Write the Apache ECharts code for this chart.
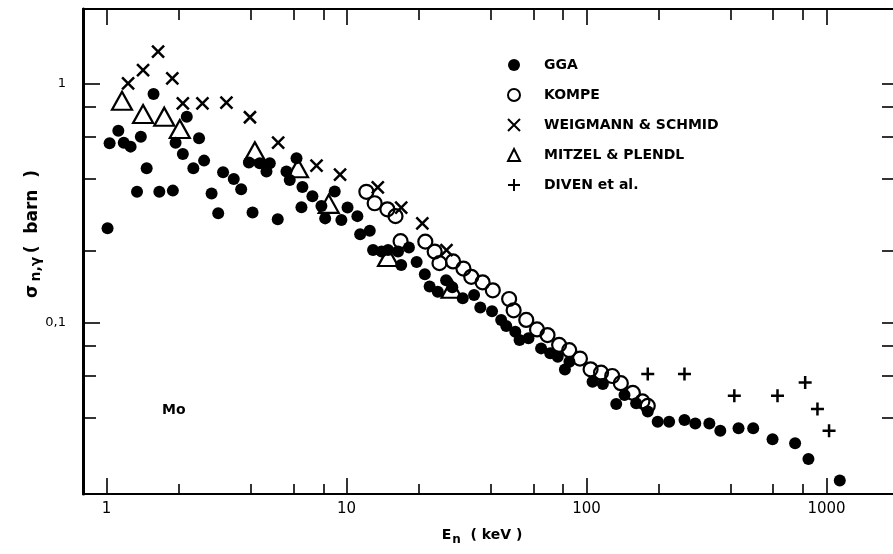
<!DOCTYPE html>
<html>
<head>
<meta charset="utf-8">
<script src="https://cdn.jsdelivr.net/npm/echarts@6/dist/echarts.min.js"></script>
<style>html,body{margin:0;padding:0;background:#fff}#c{width:893px;height:554px}</style>
</head>
<body>
<div id="c"></div>
<script>
// ---- data (E in keV, sigma in barn) ----
const ggaE = [1.01,1.03,1.12,1.18,1.26,1.34,1.39,1.47,1.57,1.66,1.89,1.94,2.08,2.16,2.30,2.43,2.55,2.74,2.92,3.06,3.39,3.64,3.92,4.06,4.35,4.64,4.79,5.17,5.62,5.80,6.19,6.49,6.55,7.21,7.86,8.15,8.93,9.52,10.1,11.1,11.4,12.5,12.9,14.0,14.9,16.4,16.9,18.2,19.6,21.2,22.2,24.0,26.0,27.6,30.5,34.0,36.1,40.4,44.1,46.3,50.5,52.6,57.3,64.7,70.6,75.9,81.3,84.9,106,117,133,144,161,180,198,221,256,284,325,361,430,495,596,740,841,1136];
const ggaS = [0.249,0.565,0.638,0.568,0.547,0.354,0.602,0.444,0.908,0.354,0.358,0.568,0.509,0.730,0.444,0.593,0.478,0.348,0.288,0.427,0.400,0.363,0.469,0.290,0.466,0.430,0.466,0.272,0.430,0.397,0.489,0.305,0.371,0.339,0.309,0.274,0.355,0.270,0.304,0.280,0.235,0.243,0.202,0.199,0.202,0.199,0.175,0.207,0.180,0.160,0.142,0.135,0.151,0.141,0.127,0.131,0.116,0.112,0.103,0.0971,0.0920,0.0849,0.0863,0.0783,0.0747,0.0723,0.0639,0.0689,0.0568,0.0556,0.0458,0.0500,0.0461,0.0426,0.0386,0.0386,0.0393,0.0380,0.0380,0.0354,0.0363,0.0363,0.0326,0.0314,0.0270,0.0219];

const kompeE = [12.1,13.1,14.8,16.0,16.8,21.3,23.3,24.4,27.8,30.7,33.1,36.9,40.7,47.6,49.7,56.1,62.2,68.8,76.9,84.7,93.9,104,115,128,139,156,171,180];
const kompeS = [0.354,0.317,0.299,0.280,0.220,0.219,0.199,0.178,0.181,0.169,0.156,0.148,0.137,0.126,0.113,0.103,0.094,0.089,0.081,0.077,0.071,0.064,0.062,0.060,0.056,0.051,0.047,0.045];

const weigE = [1.23,1.42,1.64,1.88,2.08,2.51,3.16,3.96,5.19,7.50,9.40,13.5,16.9,20.7,26.1];
const weigS = [1.007,1.144,1.365,1.056,0.830,0.830,0.835,0.726,0.568,0.455,0.418,0.369,0.304,0.261,0.202];

const mitzE = [1.16,1.42,1.74,2.02,4.15,6.28,8.43,14.9,27.4];
const mitzS = [0.851,0.749,0.730,0.648,0.523,0.444,0.315,0.189,0.139];

const divenE = [180,256,413,625,815,917,1025];
const divenS = [0.0612,0.0612,0.0496,0.0496,0.0563,0.0437,0.0354];

const seriesNames = ['GGA','KOMPE','WEIGMANN & SCHMID','MITZEL & PLENDL','DIVEN et al.'];

const xMajor = [1,10,100,1000];
const xMinor = [2,4,6,8,20,40,60,80,200,400,600,800];
const yMajor = [0.1,1];
const yMinor = [0.04,0.06,0.08,0.2,0.4,0.6,0.8];
const yRightTicks = [0.04,0.06,0.08,0.1,0.2,0.4,0.6,0.8,1];

// ---- chart ----
const pairs = (xs, ys) => xs.map((v, i) => [v, ys[i]]);
const FONT = 'DejaVu Sans';
const X_MIN = 0.798, X_MAX = 1893, Y_MIN = 0.01925, Y_MAX = 2.06;

function xAx(pos, ticks, len, opts) {
  return Object.assign({
    type: 'log', position: pos, min: X_MIN, max: X_MAX,
    axisLine: { show: false, onZero: false },
    axisTick: { show: true, inside: true, length: len, customValues: ticks, lineStyle: { color: '#000', width: 1.6 } },
    axisLabel: { show: false },
    splitLine: { show: false }, minorTick: { show: false }, minorSplitLine: { show: false }
  }, opts || {});
}
function yAx(pos, ticks, len, opts) {
  return Object.assign({
    type: 'log', position: pos, min: Y_MIN, max: Y_MAX,
    axisLine: { show: false, onZero: false },
    axisTick: { show: true, inside: true, length: len, customValues: ticks, lineStyle: { color: '#000', width: 1.6 } },
    axisLabel: { show: false },
    splitLine: { show: false }, minorTick: { show: false }, minorSplitLine: { show: false }
  }, opts || {});
}

const chart = echarts.init(document.getElementById('c'), null, { renderer: 'canvas' });
chart.setOption({
  animation: false,
  backgroundColor: '#fff',
  grid: { left: 83, right: -1, top: 9, bottom: 60, containLabel: false },
  xAxis: [
    xAx('bottom', xMajor, 16, {
      axisLine: { show: true, onZero: false, lineStyle: { color: '#000', width: 2.2 } },
      axisLabel: { show: true, customValues: xMajor, margin: 8, color: '#000', fontFamily: FONT, fontSize: 15,
        formatter: v => String(v) }
    }),
    xAx('bottom', xMinor, 10),
    xAx('top', xMajor, 16, { axisLine: { show: true, onZero: false, lineStyle: { color: '#000', width: 2 } } }),
    xAx('top', xMinor, 11)
  ],
  yAxis: [
    yAx('left', yMajor, 17, {
      axisLine: { show: true, onZero: false, lineStyle: { color: '#000', width: 3 } },
      axisLabel: { show: true, customValues: yMajor, margin: 17, color: '#000', fontFamily: FONT, fontSize: 13,
        formatter: v => String(v).replace('.', ',') }
    }),
    yAx('left', yMinor, 13),
    yAx('right', yRightTicks, 11)
  ],
  legend: {
    orient: 'vertical', left: 507, top: 58, padding: 0,
    itemWidth: 12, itemHeight: 12, itemGap: 16,
    selectedMode: false,
    textStyle: { color: '#000', fontFamily: FONT, fontSize: 14, fontWeight: 'bold', padding: [0, 0, 0, 19] },
    data: seriesNames
  },
  graphic: [
    { type: 'text', x: 33, y: 234, rotation: Math.PI / 2,
      style: { text: '{a|σ} {b|n,γ} {a|(  barn  )}', align: 'center', verticalAlign: 'middle',
        rich: { a: { fontFamily: FONT, fontSize: 17, fontWeight: 'bold', fill: '#000' }, b: { fontFamily: FONT, fontSize: 14, fontWeight: 'bold', fill: '#000', padding: [6, 0, 0, 0] } } } },
    { type: 'text', x: 482, y: 535,
      style: { text: '{a|E}{b|n}{a|  ( keV )}', align: 'center', verticalAlign: 'middle',
        rich: { a: { fontFamily: FONT, fontSize: 14, fontWeight: 'bold', fill: '#000' }, b: { fontFamily: FONT, fontSize: 12, fontWeight: 'bold', fill: '#000', padding: [10, 0, 0, 1] } } } },
    { type: 'text', x: 162, y: 410,
      style: { text: 'Mo', verticalAlign: 'middle', fontFamily: FONT, fontSize: 14, fontWeight: 'bold', fill: '#000' } }
  ],
  series: [
    { name: seriesNames[0], type: 'scatter', xAxisIndex: 0, yAxisIndex: 0, symbol: 'circle', symbolSize: 12,
      itemStyle: { color: '#000', opacity: 1 }, data: pairs(ggaE, ggaS), z: 2 },
    { name: seriesNames[1], type: 'scatter', xAxisIndex: 0, yAxisIndex: 0, symbol: 'circle', symbolSize: 14,
      itemStyle: { color: 'rgba(255,255,255,0)', borderColor: '#000', borderWidth: 2.2, opacity: 1 }, data: pairs(kompeE, kompeS), z: 3 },
    { name: seriesNames[2], type: 'scatter', xAxisIndex: 0, yAxisIndex: 0, symbol: 'path://M0,0L10,10M10,0L0,10', symbolSize: 12,
      itemStyle: { color: '#000', borderColor: '#000', borderWidth: 2.5, opacity: 1 }, data: pairs(weigE, weigS), z: 4 },
    { name: seriesNames[3], type: 'scatter', xAxisIndex: 0, yAxisIndex: 0, symbol: 'triangle', symbolSize: [20, 18],
      itemStyle: { color: 'rgba(255,255,255,0)', borderColor: '#000', borderWidth: 2.2, opacity: 1 }, data: pairs(mitzE, mitzS), z: 4 },
    { name: seriesNames[4], type: 'scatter', xAxisIndex: 0, yAxisIndex: 0, symbol: 'path://M5,0L5,10M0,5L10,5', symbolSize: 13,
      itemStyle: { color: '#000', borderColor: '#000', borderWidth: 2.5, opacity: 1 }, data: pairs(divenE, divenS), z: 4 }
  ]
});
</script>
</body>
</html>
